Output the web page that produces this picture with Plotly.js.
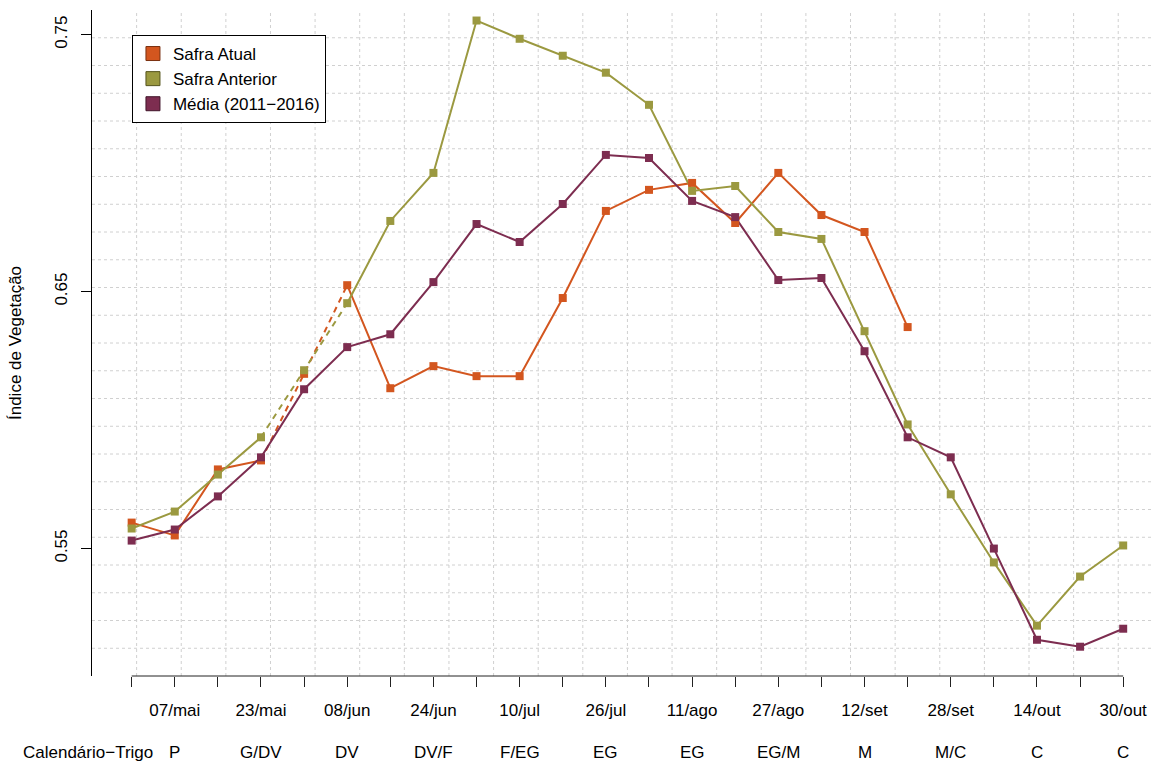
<!DOCTYPE html>
<html>
<head>
<meta charset="utf-8">
<script src="https://cdn.plot.ly/plotly-3.0.1.min.js"></script>
<style>html,body{margin:0;padding:0;background:#fff;}#chart{width:1152px;height:762px;}</style>
</head>
<body>
<div id="chart"></div>
<script>
// ---- data ----
const positions = [1,2,3,4,5,6,7,8,9,10,11,12,13,14,15,16,17,18,19,20,21,22,23,24];
const dateLabels = ["","07/mai","","23/mai","","08/jun","","24/jun","","10/jul","","26/jul","","11/ago","","27/ago","","12/set","","28/set","","14/out","","30/out"];
const phaseLabels = ["","P","","G/DV","","DV","","DV/F","","F/EG","","EG","","EG","","EG/M","","M","","M/C","","C","","C"];
const safraAtual = [0.5601,0.5551,0.5808,0.5843,0.6180,0.6525,0.6124,0.6210,0.6171,0.6171,0.6475,0.6814,0.6896,0.6923,0.6767,0.6962,0.6798,0.6732,0.6362,null,null,null,null,null];
const safraAnterior = [0.5578,0.5644,0.5788,0.5933,0.6194,0.6455,0.6775,0.6962,0.7555,0.7484,0.7418,0.7352,0.7227,0.6892,0.6911,0.6732,0.6705,0.6346,0.5983,0.5711,0.5446,0.5200,0.5391,0.5512];
const media = [0.5531,0.5574,0.5703,0.5855,0.6120,0.6284,0.6334,0.6537,0.6763,0.6693,0.6841,0.7032,0.7020,0.6853,0.6790,0.6545,0.6553,0.6268,0.5933,0.5855,0.5500,0.5145,0.5118,0.5188];
const seriesNames = ["Safra Atual","Safra Anterior","Média (2011\u22122016)"];
const yTicks = [0.55,0.65,0.75];
const yTickText = ["0.55","0.65","0.75"];
const rowTitle = "Calend\u00e1rio\u2212Trigo";
const yTitle = "\u00cdndice de Vegeta\u00e7\u00e3o";

// ---- style ----
const colors = ["#D3561F","#9B9940","#7D2D50"];
const borders = ["#7a3010","#55541c","#40152a"];
const dashed = [[4,6],[4,6],null]; // 1-based index range drawn dashed
const usrX = [0.08, 24.92];
const usrY = [0.5004, 0.7596];
const xRange = [0.08, 0.08 + 1060/43.11];

const allSeries = [safraAtual, safraAnterior, media];
const traces = [];
allSeries.forEach((vals, s) => {
  const d = dashed[s];
  const solid = vals.map((v,i) => (d && (i+1) > d[0] && (i+1) < d[1]) ? null : v);
  traces.push({x: positions, y: solid, mode:'lines', line:{color:colors[s], width:2}, showlegend:false, hoverinfo:'skip', connectgaps:false});
  if (d) {
    const dx = [], dy = [];
    for (let i=d[0]; i<=d[1]; i++){ dx.push(positions[i-1]); dy.push(vals[i-1]); }
    traces.push({x: dx, y: dy, mode:'lines', line:{color:colors[s], width:2, dash:'6px,5px'}, showlegend:false, hoverinfo:'skip'});
  }
});
allSeries.forEach((vals, s) => {
  traces.push({x: positions, y: vals, mode:'markers', marker:{symbol:'square', size:8, color:colors[s], line:{width:0}}, showlegend:false});
});
seriesNames.forEach((n, s) => {
  traces.push({x:[null], y:[null], mode:'markers', name:n, marker:{symbol:'square', size:14, color:colors[s], line:{color:borders[s], width:1}}, showlegend:true});
});

const shapes = [];
for (let k=1; k<24; k++) {
  const gx = usrX[0] + k*(usrX[1]-usrX[0])/24;
  shapes.push({type:'line', xref:'x', yref:'paper', x0:gx, x1:gx, y0:0, y1:1, line:{color:'#d0d0d0', width:1, dash:'dot'}, layer:'below'});
  const gy = usrY[0] + k*(usrY[1]-usrY[0])/24;
  shapes.push({type:'line', xref:'paper', yref:'y', x0:0, x1:1, y0:gy, y1:gy, line:{color:'#d0d0d0', width:1, dash:'dot'}, layer:'below'});
}
shapes.push({type:'line', xref:'x', yref:'paper', x0:positions[0], x1:positions[positions.length-1], y0:0, y1:0, line:{color:'#222', width:1}});

const rowY = -0.1145;
const annotations = [];
annotations.push({xref:'paper', yref:'paper', x:-0.0042, y:rowY, text:rowTitle, showarrow:false, xanchor:'center', yanchor:'middle', font:{size:17, color:'#000'}});
phaseLabels.forEach((t,i) => {
  if (t) annotations.push({xref:'x', yref:'paper', x:positions[i], y:rowY, text:t, showarrow:false, xanchor:'center', yanchor:'middle', font:{size:17, color:'#000'}});
});

const layout = {
  width:1152, height:762,
  margin:{l:92, r:0, t:10, b:86, pad:0},
  paper_bgcolor:'#fff', plot_bgcolor:'#fff',
  font:{family:'Liberation Sans, Arial, sans-serif', size:17, color:'#000'},
  xaxis:{range:xRange, showgrid:false, zeroline:false, showline:false,
         tickmode:'array', tickvals:positions, ticktext:dateLabels,
         ticks:'outside', ticklen:10, tickcolor:'#222', tickwidth:1,
         tickfont:{size:17}, ticklabelstandoff:9, automargin:false},
  yaxis:{range:usrY, showgrid:false, zeroline:false, showline:true, linecolor:'#000', linewidth:1,
         tickmode:'array', tickvals:yTicks, ticktext:yTickText, tickangle:-90,
         ticks:'outside', ticklen:10, tickcolor:'#000', tickwidth:1,
         tickfont:{size:17}, ticklabelstandoff:7, automargin:false,
         title:{text:yTitle, font:{size:17}, standoff:26}},
  showlegend:true,
  legend:{x:0.0377, y:0.9625, xanchor:'left', yanchor:'top', bgcolor:'#fff', bordercolor:'#000', borderwidth:1,
          font:{size:17}, tracegroupgap:0, itemsizing:'trace', entrywidth:168, entrywidthmode:'pixels'},
  shapes:shapes, annotations:annotations
};
Plotly.newPlot('chart', traces, layout, {displayModeBar:false, staticPlot:true});
</script>
</body>
</html>
